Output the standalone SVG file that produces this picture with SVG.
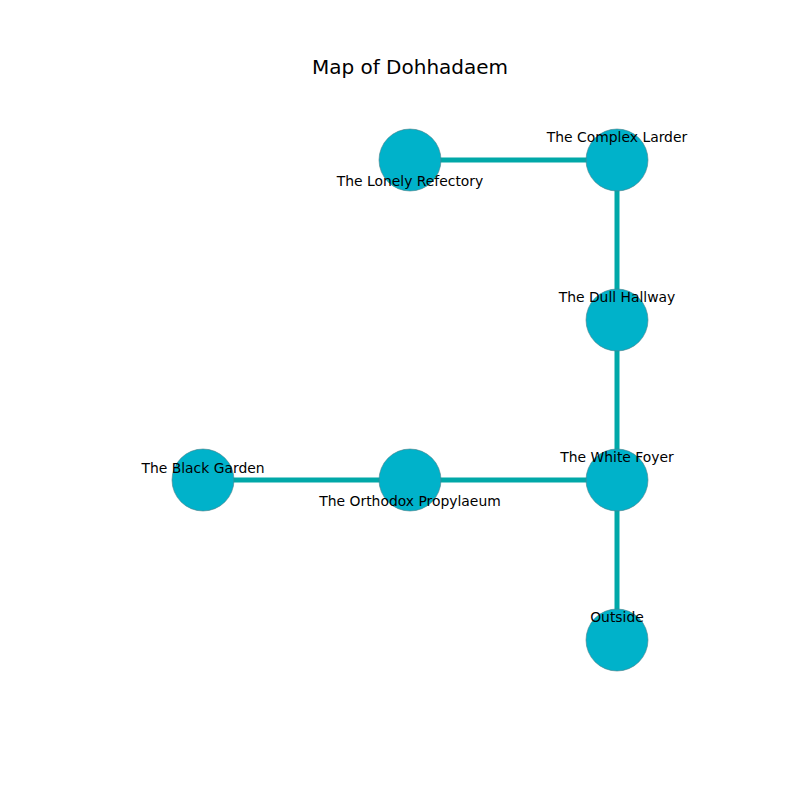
<svg xmlns="http://www.w3.org/2000/svg" width="800" height="800" viewBox="0 0 800 800">
<style>
.edge{stroke:#00A8A8;stroke-width:5;fill:none}
.node circle{fill:#00B2CA;stroke:#4d7f88;stroke-width:0.6}
.lbl{font-family:"DejaVu Sans",sans-serif;font-size:13.9px;fill:#000;text-anchor:middle}
.title{font-family:"DejaVu Sans",sans-serif;font-size:20px;fill:#000;text-anchor:middle}
</style>
<rect width="800" height="800" fill="#fff"/>
<text class="title" x="410" y="74">Map of Dohhadaem</text>
<g id="connectors">
<line class="edge" x1="410" y1="160" x2="617" y2="160"/>
<line class="edge" x1="617" y1="160" x2="617" y2="320"/>
<line class="edge" x1="617" y1="320" x2="617" y2="480"/>
<line class="edge" x1="617" y1="480" x2="617" y2="640"/>
<line class="edge" x1="410" y1="480" x2="617" y2="480"/>
<line class="edge" x1="203" y1="480" x2="410" y2="480"/>
</g>
<g id="lonely-refectory" class="node"><circle cx="410" cy="160" r="31"/><text class="lbl" x="410" y="186">The Lonely Refectory</text></g>
<g id="complex-larder" class="node"><circle cx="617" cy="160" r="31"/><text class="lbl" x="617" y="142">The Complex Larder</text></g>
<g id="dull-hallway" class="node"><circle cx="617" cy="320" r="31"/><text class="lbl" x="617" y="302">The Dull Hallway</text></g>
<g id="white-foyer" class="node"><circle cx="617" cy="480" r="31"/><text class="lbl" x="617" y="462">The White Foyer</text></g>
<g id="outside" class="node"><circle cx="617" cy="640" r="31"/><text class="lbl" x="617" y="622">Outside</text></g>
<g id="orthodox-propylaeum" class="node"><circle cx="410" cy="480" r="31"/><text class="lbl" x="410" y="506">The Orthodox Propylaeum</text></g>
<g id="black-garden" class="node"><circle cx="203" cy="480" r="31"/><text class="lbl" x="203" y="473">The Black Garden</text></g>
</svg>
